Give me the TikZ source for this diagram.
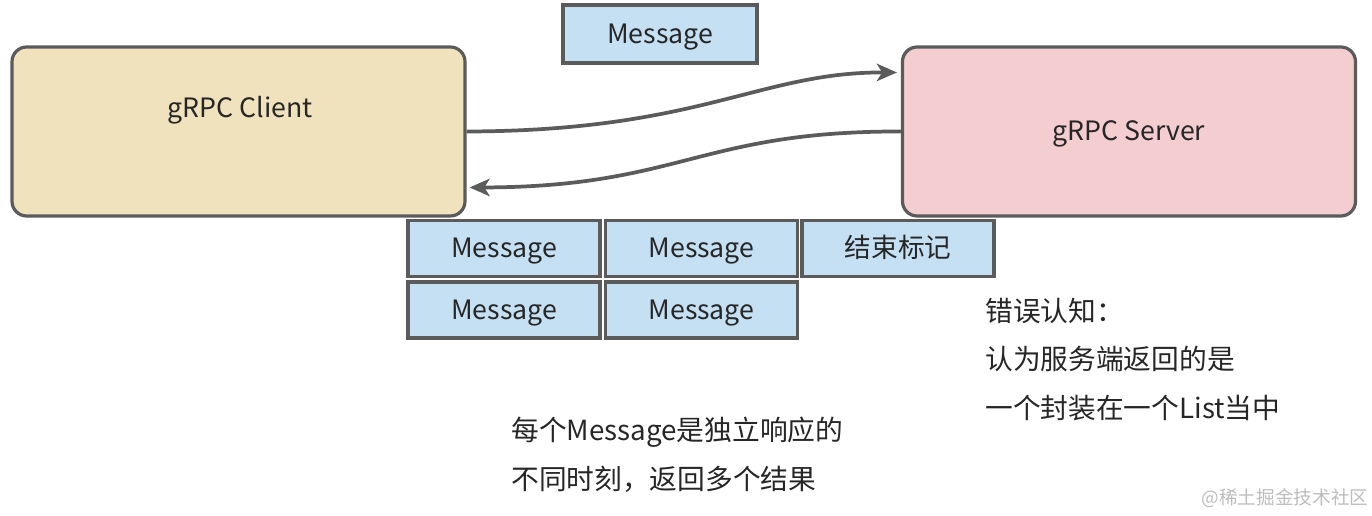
\documentclass[tikz,border=0pt]{standalone}
\usepackage{fontspec}
\setmainfont{Noto Sans CJK SC}
\usetikzlibrary{arrows.meta,calc}
\definecolor{beige}{HTML}{F1E2BE}
\definecolor{pinkbox}{HTML}{F4CDD1}
\definecolor{bluebox}{HTML}{C5DFF3}
\definecolor{edge}{HTML}{5B5B5B}
\definecolor{ink}{HTML}{262626}
\definecolor{wm}{HTML}{BDBDBD}
\tikzset{
  boxtext/.style={text=ink, font=\fontsize{20}{24}\selectfont, text height=17pt, text depth=3pt},
  bigbox/.style={draw=edge, line width=2.4pt, rounded corners=11pt, minimum width=453*0.75pt, minimum height=169*0.75pt, inner sep=0pt, boxtext},
  msg/.style={draw=edge, line width=2.3pt, fill=bluebox, minimum width=192*0.75pt, minimum height=56*0.75pt, inner sep=0pt, boxtext},
  conn/.style={draw=edge, line width=2.8pt, -{Stealth[length=15pt,width=13pt,inset=4pt]}},
  note/.style={anchor=west, text=ink, font=\fontsize{20.8}{24}\selectfont, inner sep=0pt}
}
\begin{document}
\begin{tikzpicture}[x=0.75pt,y=-0.75pt]
\useasboundingbox (0,0) rectangle (1372,516);
\node[bigbox, fill=beige] (client) at (238.5,131.5) {};
\node[boxtext, inner sep=0pt] (clientlabel) at (240,108) {gRPC Client};
\node[bigbox, fill=pinkbox] (server) at (1129,131.5) {gRPC Server};
\node[msg, minimum width=194*0.75pt, minimum height=58*0.75pt] (top) at (660,34) {Message};
\node[msg] (m1) at (504,248.5) {Message};
\node[msg] (m2) at (701.5,248.5) {Message};
\node[msg] (m3) at (898,248.5) {结束标记};
\node[msg] (m4) at (504,310) {Message};
\node[msg] (m5) at (701.5,310) {Message};
\coordinate (a1s) at (client.east);
\coordinate (a1e) at ($(server.west)+(-4,-59)$);
\coordinate (a2s) at (server.west);
\coordinate (a2e) at ($(client.east)+(3,56)$);
\draw[conn] (a1s) .. controls (700,131) and (760,72) .. (a1e);
\draw[conn] (a2s) .. controls (700,131) and (680,187) .. (a2e);
\node[note] (n1) at (985,311) {错误认知：};
\node[note] (n2) at (985,359) {认为服务端返回的是};
\node[note] (n3) at (985,408) {一个封装在一个List当中};
\node[note] (n4) at (511,432) {每个Message是独立响应的};
\node[note] (n5) at (511,479) {不同时刻，返回多个结果};
\node[text=wm, font=\fontsize{14}{16}\selectfont, inner sep=0pt] (wmark) at (1285,498) {@稀土掘金技术社区};
\end{tikzpicture}
\end{document}
